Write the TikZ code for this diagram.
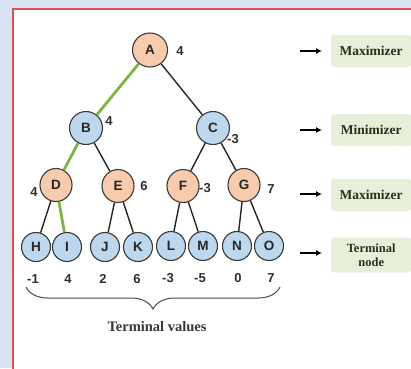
\documentclass[tikz,border=0pt]{standalone}
\usepackage{fontspec}
\setmainfont{Liberation Serif}
\newfontfamily\nodefont{Liberation Sans}
\usetikzlibrary{decorations.pathreplacing,arrows.meta,shapes.geometric}
\definecolor{pagebg}{HTML}{DAE3F2}
\definecolor{framered}{HTML}{D9534F}
\definecolor{maxfill}{HTML}{F8CBAD}
\definecolor{minfill}{HTML}{BDD7EE}
\definecolor{nodeline}{HTML}{3A3A3A}
\definecolor{pathgreen}{HTML}{7DB544}
\definecolor{tagfill}{HTML}{E5EFDA}
\definecolor{tagtext}{HTML}{263022}
\tikzset{
  gnode/.style={ellipse, draw=nodeline, line width=1.1pt, inner sep=0pt,
    font=\nodefont\bfseries\fontsize{13.5}{13.5}\selectfont, text=black!85},
  maxnode/.style={gnode, minimum width=32pt, minimum height=33pt, fill=maxfill},
  rootnode/.style={gnode, minimum width=35pt, minimum height=34pt, fill=maxfill},
  minnode/.style={gnode, minimum width=33pt, minimum height=33pt, fill=minfill},
  leaf/.style={gnode, minimum width=29pt, minimum height=29pt, fill=minfill},
  val/.style={font=\nodefont\bfseries\fontsize{13}{13}\selectfont, text=black!82, inner sep=0pt},
  edge/.style={draw=black!85, line width=1.4pt},
  best/.style={draw=pathgreen, line width=2.8pt},
  tag/.style={fill=tagfill, rounded corners=3pt, minimum height=32pt, text width=80pt,
    align=center, inner sep=0pt, text=tagtext,
    font=\bfseries\fontsize{13.5}{14}\selectfont},
  pointer/.style={-{Latex[length=6pt,width=6pt]}, line width=1.6pt, black}
}
\begin{document}
\begin{tikzpicture}[x=1pt,y=-1pt]
  \useasboundingbox (0,0) rectangle (411,368);
  \fill[pagebg] (0,0) rectangle (411,368);
  \fill[white] (13,9) rectangle (420,380);
  \draw[framered, line width=1.6pt] (13,380) -- (13,9) -- (420,9);

  % game tree
  \node[rootnode] (A) at (150,50) {A};
  \node[minnode] (B) at (86,128) {B};
  \node[minnode] (C) at (213,128) {C};
  \node[maxnode] (D) at (56,185) {D};
  \node[maxnode] (E) at (118,186) {E};
  \node[maxnode] (F) at (183,186) {F};
  \node[maxnode] (G) at (244,185) {G};
  \node[leaf] (H) at (36,247) {H};
  \node[leaf] (I) at (67,247) {I};
  \node[leaf] (J) at (105,247) {J};
  \node[leaf] (K) at (138,247) {K};
  \node[leaf] (L) at (171,246) {L};
  \node[leaf] (M) at (203,246) {M};
  \node[leaf] (N) at (237,246) {N};
  \node[leaf] (O) at (269,246) {O};

  % connectors
  \path[best] (A) -- (B);
  \path[best] (B) -- (D);
  \path[best] (D) -- (I);
  \path[edge] (A) -- (C);
  \path[edge] (B) -- (E);
  \path[edge] (C) -- (F);
  \path[edge] (C) -- (G);
  \path[edge] (D) -- (H);
  \path[edge] (E) -- (J);
  \path[edge] (E) -- (K);
  \path[edge] (F) -- (L);
  \path[edge] (F) -- (M);
  \path[edge] (G) -- (N);
  \path[edge] (G) -- (O);

  % backed-up values
  \node[val] (vA) at (180,51) {4};
  \node[val] (vB) at (109,121) {4};
  \node[val] (vC) at (233,139) {-3};
  \node[val] (vD) at (34,192) {4};
  \node[val] (vE) at (144,186) {6};
  \node[val] (vF) at (205,188) {-3};
  \node[val] (vG) at (271,189) {7};

  % terminal values
  \node[val] (tH) at (33,279) {-1};
  \node[val] (tI) at (68,279) {4};
  \node[val] (tJ) at (103,279) {2};
  \node[val] (tK) at (137,279) {6};
  \node[val] (tL) at (168,278) {-3};
  \node[val] (tM) at (200,278) {-5};
  \node[val] (tN) at (238,278) {0};
  \node[val] (tO) at (271,278) {7};

  \coordinate (braceL) at (26,287);
  \coordinate (braceR) at (280,287);
  \draw[decorate, decoration={brace, amplitude=22pt, mirror, aspect=0.5}, black!70, line width=1pt]
    (braceL) -- (braceR);
  \node[font=\bfseries\fontsize{14.5}{15}\selectfont, text=black!78] (tv) at (157,327) {Terminal values};

  % level tags
  \node[tag, anchor=west] (m1) at (331,51) {Maximizer};
  \node[tag, anchor=west] (m2) at (331,130) {Minimizer};
  \node[tag, anchor=west] (m3) at (331,195) {Maximizer};
  \node[tag, anchor=west, minimum height=35pt, font=\bfseries\fontsize{12.5}{14}\selectfont] (m4) at (331,255) {Terminal\\node};
  \coordinate (p1) at (300,51);
  \coordinate (p2) at (300,130);
  \coordinate (p3) at (300,194);
  \coordinate (p4) at (300,253);
  \draw[pointer] (p1) -- ([xshift=-9pt]m1.west);
  \draw[pointer] (p2) -- ([xshift=-9pt]m2.west);
  \draw[pointer] (p3) -- ([xshift=-9pt]m3.west|-p3);
  \draw[pointer] (p4) -- ([xshift=-9pt]m4.west|-p4);
\end{tikzpicture}
\end{document}
